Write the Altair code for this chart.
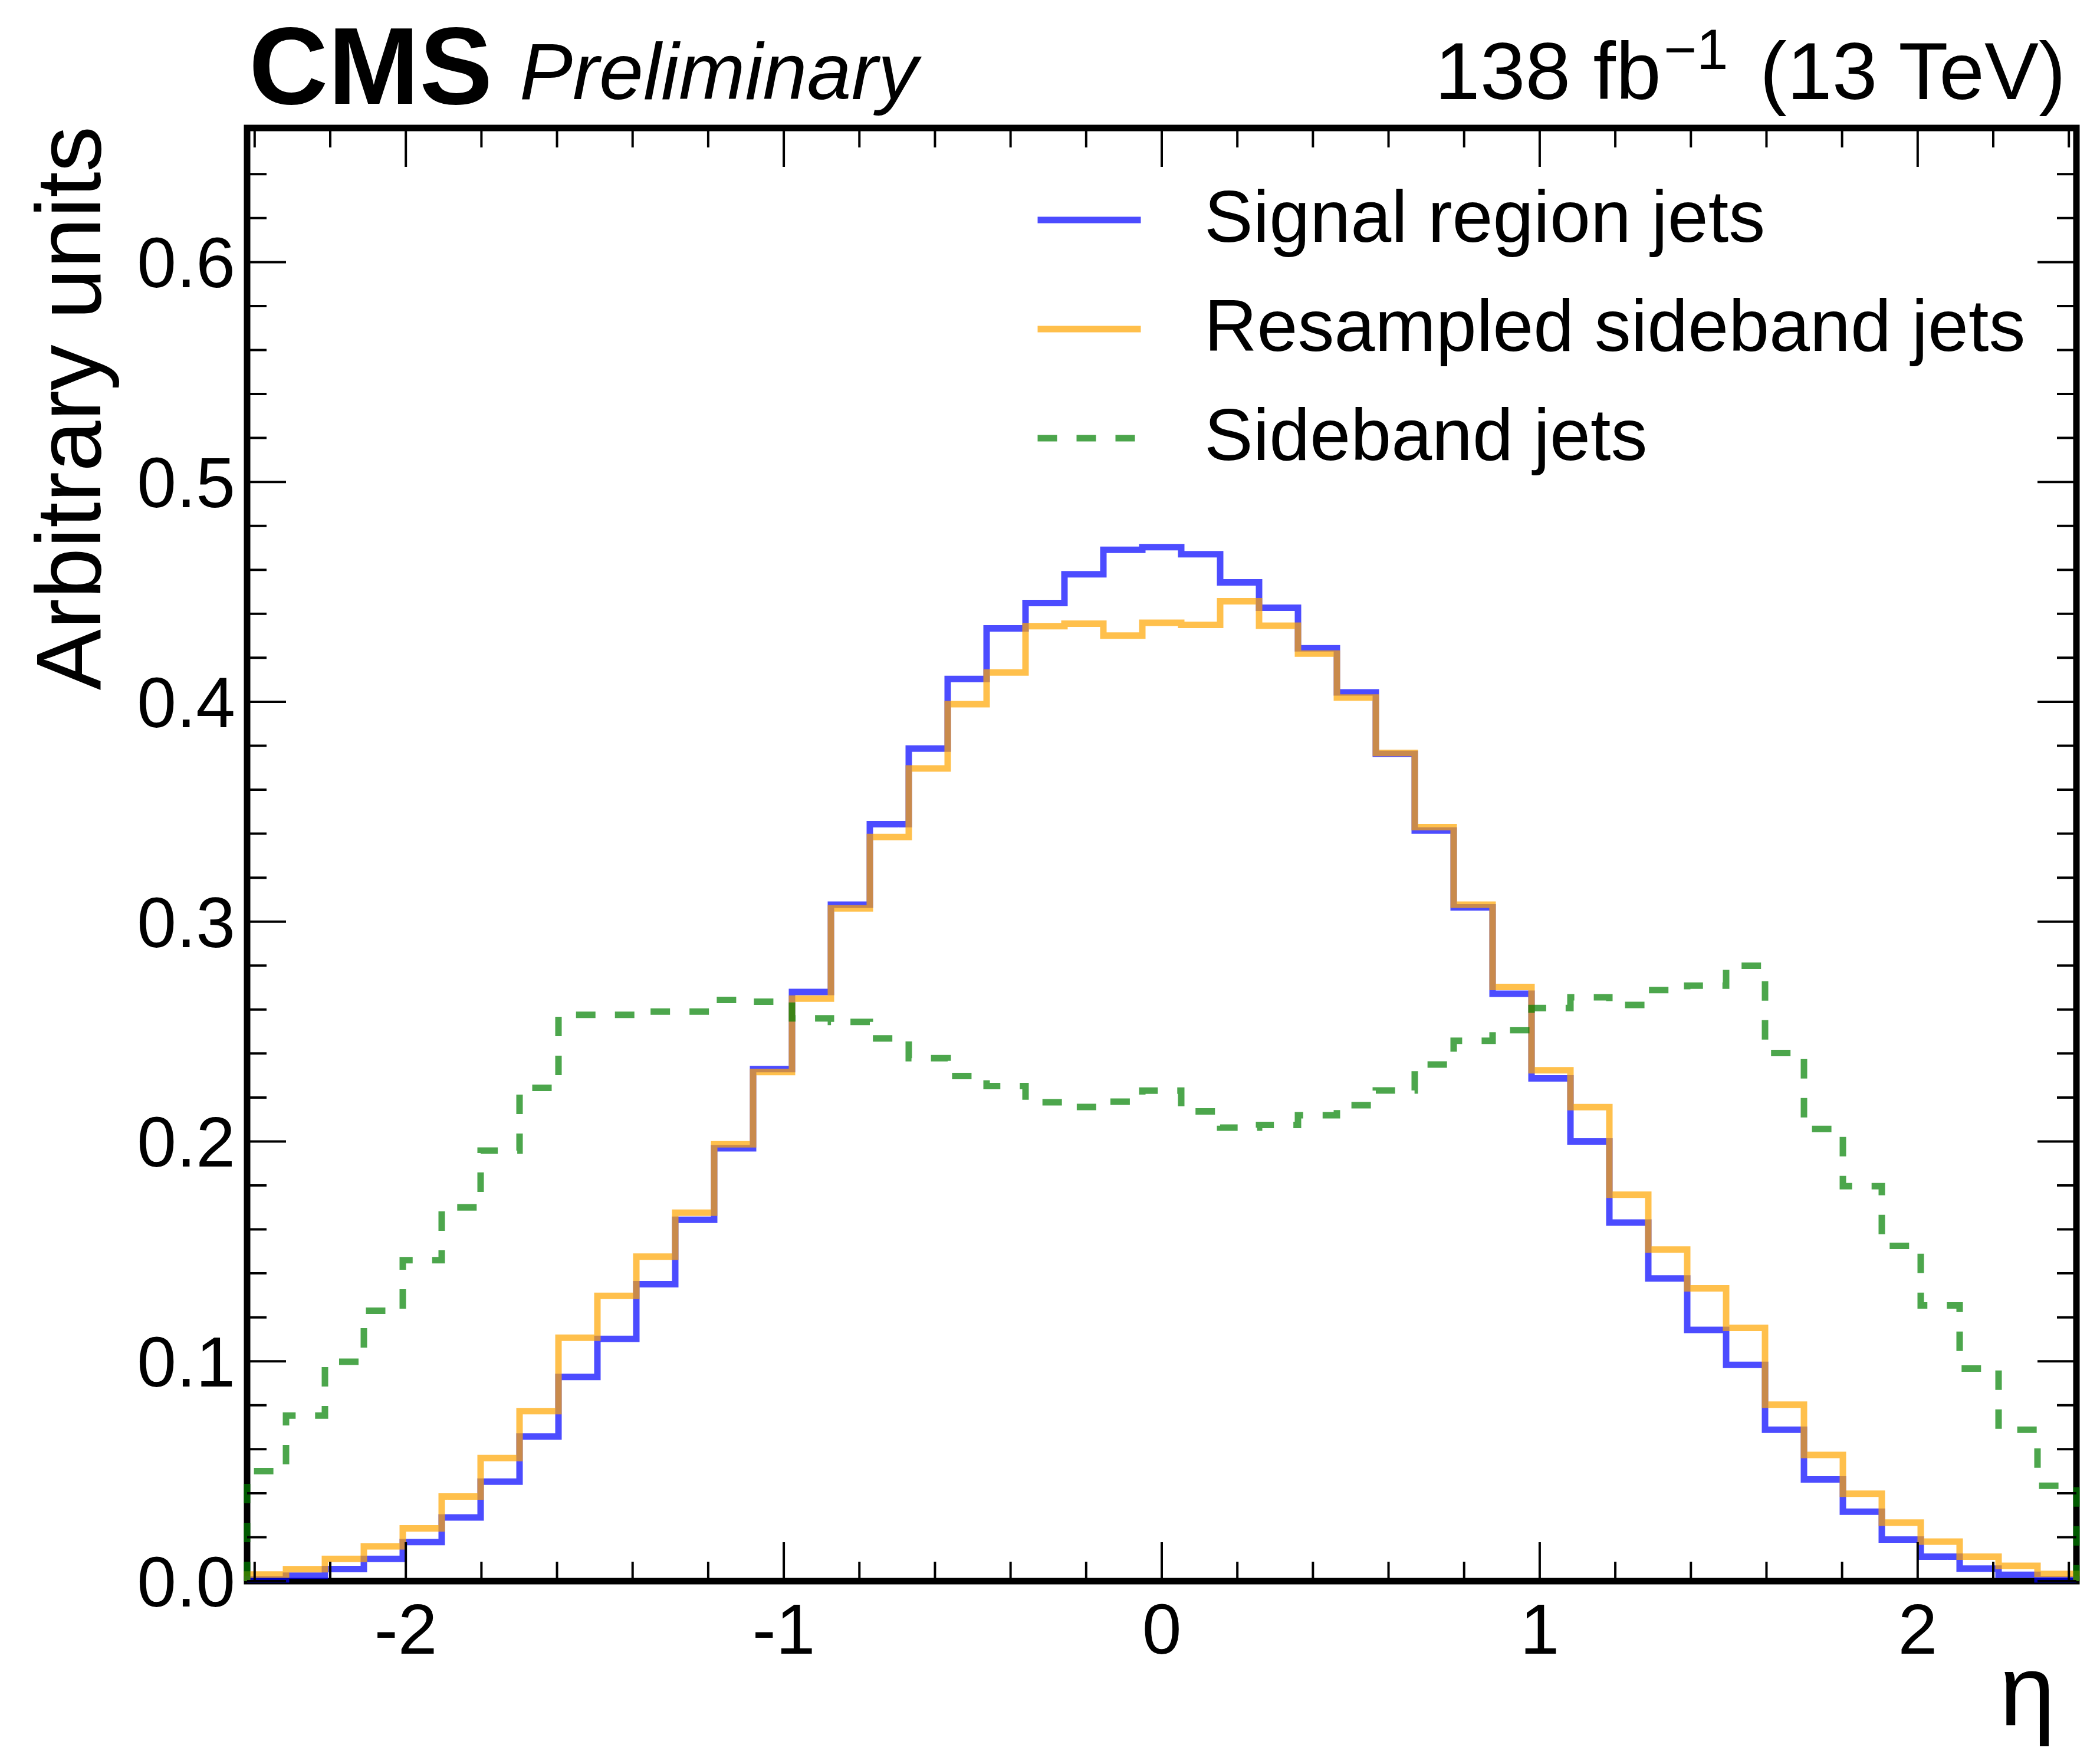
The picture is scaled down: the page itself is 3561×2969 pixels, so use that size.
import altair as alt
import numpy as np
import pandas as pd

# ---------------- data ----------------
bin_edges = np.round(np.linspace(-2.42, 2.42, 48), 5).tolist()   # 47 bins

signal = [0.0008, 0.0025, 0.0055, 0.0101, 0.0178, 0.0290, 0.0453, 0.0658, 0.0929, 0.1102,
          0.1351, 0.1644, 0.1969, 0.2329, 0.2680, 0.3077, 0.3443, 0.3787, 0.4104, 0.4334,
          0.4449, 0.4580, 0.4691, 0.4703, 0.4671, 0.4543, 0.4428, 0.4243, 0.4043, 0.3763,
          0.3414, 0.3065, 0.2672, 0.2287, 0.2000, 0.1631, 0.1377, 0.1143, 0.0984, 0.0689,
          0.0463, 0.0316, 0.0189, 0.0111, 0.0057, 0.0029, 0.0008]

resampled = [0.0030, 0.0054, 0.0101, 0.0158, 0.0240, 0.0385, 0.0560, 0.0773, 0.1107, 0.1298,
             0.1476, 0.1676, 0.1987, 0.2316, 0.2650, 0.3060, 0.3385, 0.3697, 0.3989, 0.4133,
             0.4344, 0.4355, 0.4301, 0.4359, 0.4350, 0.4457, 0.4346, 0.4219, 0.4019, 0.3767,
             0.3430, 0.3077, 0.2703, 0.2324, 0.2156, 0.1758, 0.1508, 0.1332, 0.1152, 0.0803,
             0.0574, 0.0398, 0.0266, 0.0180, 0.0111, 0.0070, 0.0033]

sideband = [0.0500, 0.0753, 0.0998, 0.1230, 0.1460, 0.1700, 0.1958, 0.2244, 0.2576, 0.2576,
            0.2591, 0.2591, 0.2644, 0.2636, 0.2560, 0.2544, 0.2469, 0.2379, 0.2298, 0.2252,
            0.2178, 0.2157, 0.2181, 0.2231, 0.2137, 0.2063, 0.2075, 0.2119, 0.2165, 0.2232,
            0.2350, 0.2458, 0.2506, 0.2607, 0.2656, 0.2621, 0.2689, 0.2709, 0.2799, 0.2402,
            0.2057, 0.1797, 0.1525, 0.1254, 0.0967, 0.0689, 0.0434]

series_names = ["Signal region jets", "Resampled sideband jets", "Sideband jets"]
series_colors = ["#0000ff", "#ffa500", "#008000"]

y_major = [0.0, 0.1, 0.2, 0.3, 0.4, 0.5, 0.6]
y_major_labels = ["0.0", "0.1", "0.2", "0.3", "0.4", "0.5", "0.6"]
y_minor = [0.02, 0.04, 0.06, 0.08, 0.12, 0.14, 0.16, 0.18, 0.22, 0.24, 0.26, 0.28,
           0.32, 0.34, 0.36, 0.38, 0.42, 0.44, 0.46, 0.48, 0.52, 0.54, 0.56, 0.58,
           0.62, 0.64]
x_major = [-2, -1, 0, 1, 2]
x_major_labels = ["-2", "-1", "0", "1", "2"]
x_minor = [-2.4, -2.2, -1.8, -1.6, -1.4, -1.2, -0.8, -0.6, -0.4, -0.2,
           0.2, 0.4, 0.6, 0.8, 1.2, 1.4, 1.6, 1.8, 2.2, 2.4]

# --------------- step outlines ---------------
rows = []
for name, vals in zip(series_names, [signal, resampled, sideband]):
    pts = [(bin_edges[0], 0.0)]
    for k, v in enumerate(vals):
        pts.append((bin_edges[k], v))
        pts.append((bin_edges[k + 1], v))
    pts.append((bin_edges[-1], 0.0))
    for i, (x, y) in enumerate(pts):
        rows.append({"series": name, "x": x, "y": y, "order": i})
df = pd.DataFrame(rows)

FONT = "Liberation Sans"
W, H = 3102, 2464
xscale = alt.Scale(domain=[-2.42, 2.42], nice=False, zero=False)
yscale = alt.Scale(domain=[0, 0.661], nice=False, zero=False)

legend = alt.Legend(orient="none", legendX=1335, legendY=63, title=None,
                    symbolType="stroke", symbolSize=175 ** 2, symbolStrokeWidth=11,
                    symbolOpacity=0.7, labelFont=FONT, labelFontSize=124,
                    labelOffset=102, rowPadding=30, padding=0, labelLimit=0,
                    labelColor="black")

lines = alt.Chart(df).mark_line(strokeWidth=11, opacity=0.7).encode(
    x=alt.X("x:Q", scale=xscale, axis=None),
    y=alt.Y("y:Q", scale=yscale, axis=None),
    color=alt.Color("series:N", scale=alt.Scale(domain=series_names, range=series_colors),
                    legend=legend),
    strokeDash=alt.StrokeDash("series:N",
                              scale=alt.Scale(domain=series_names,
                                              range=[[1, 0], [1, 0], [33, 33]]),
                              legend=legend),
    order="order:Q",
)


def tick_layer(vals, axis, side, length):
    d = pd.DataFrame({"v": vals})
    base = alt.Chart(d).mark_rule(color="black", strokeWidth=4)
    if axis == "y":
        enc = dict(y=alt.Y("v:Q", scale=yscale, axis=None))
        if side == "left":
            enc.update(x=alt.value(0), x2=alt.value(length))
        else:
            enc.update(x=alt.value(W), x2=alt.value(W - length))
    else:
        enc = dict(x=alt.X("v:Q", scale=xscale, axis=None))
        if side == "bottom":
            enc.update(y=alt.value(H), y2=alt.value(H - length))
        else:
            enc.update(y=alt.value(0), y2=alt.value(length))
    return base.encode(**enc)


ticks = [
    tick_layer(y_major, "y", "left", 66), tick_layer(y_minor, "y", "left", 33),
    tick_layer(y_major, "y", "right", 66), tick_layer(y_minor, "y", "right", 33),
    tick_layer(x_major, "x", "bottom", 66), tick_layer(x_minor, "x", "bottom", 33),
    tick_layer(x_major, "x", "top", 66), tick_layer(x_minor, "x", "top", 33),
]

# tick labels, placed through the scales
ylab = alt.Chart(pd.DataFrame({"v": y_major, "lab": y_major_labels})).mark_text(
    font=FONT, fontSize=120, align="right", baseline="alphabetic", dy=43, color="black"
).encode(y=alt.Y("v:Q", scale=yscale, axis=None), x=alt.value(-20), text="lab:N")

xlab = alt.Chart(pd.DataFrame({"v": x_major, "lab": x_major_labels})).mark_text(
    font=FONT, fontSize=120, align="center", baseline="alphabetic", color="black"
).encode(x=alt.X("v:Q", scale=xscale, axis=None), y=alt.value(H + 123), text="lab:N")

one = pd.DataFrame({"t": [0]})


def label(text, x, y, size, align="left", weight="normal", style="normal", angle=0,
          baseline="alphabetic"):
    kw = dict(text=text, font=FONT, fontSize=size, align=align, baseline=baseline,
              fontWeight=weight, fontStyle=style, color="black")
    if angle:
        kw["angle"] = angle
    return alt.Chart(one).mark_text(**kw).encode(x=alt.value(x), y=alt.value(y))


texts = [
    label("CMS", 3, -41, 186, weight="bold"),
    label("Preliminary", 462, -49, 135, style="italic"),
    label("138 fb", 2014, -49, 138),
    label("\u22121", 2402, -100, 96),
    label("(13 TeV)", 3084, -49, 138, align="right"),
    label("\u03b7", 3066, 2709, 170, align="right"),
    label("Arbitrary units", -249, -3, 155, align="right", angle=270),
]

chart = alt.layer(lines, *ticks, ylab, xlab, *texts).properties(
    width=W, height=H,
    padding={"left": 411, "top": 209, "right": 30, "bottom": 280},
    autosize=alt.AutoSizeParams(type="none"),
).configure(font=FONT, view=alt.ViewConfig(stroke="black", strokeWidth=11))

chart.save("out.html", embed_options={"renderer": "svg", "actions": False})
